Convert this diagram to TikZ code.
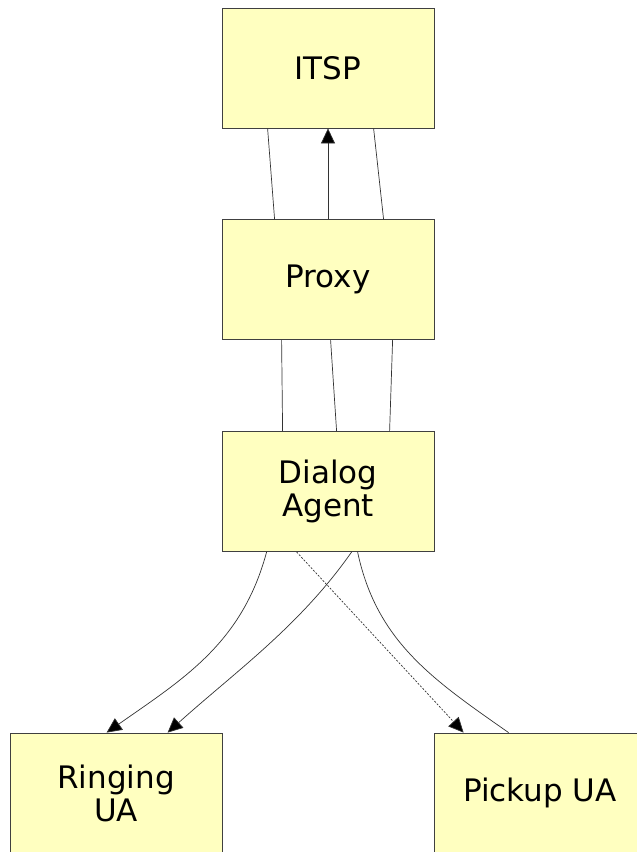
\documentclass[tikz,border=0pt]{standalone}
\usepackage{fontspec}
\setmainfont{DejaVu Sans}
\usepackage{xcolor}
\usetikzlibrary{positioning,arrows.meta}
\definecolor{boxfill}{HTML}{FFFFC0}

\begin{document}
\begin{tikzpicture}[x = 1pt, y = 1pt,
  box/.style = {draw = black!75, fill = boxfill, line width = 0.8pt,
    minimum width = 212pt, minimum height = 120pt, inner sep = 0pt,
    align = center, font = \fontsize{31}{33}\selectfont},
  link/.style = {draw = black!80, line width = 0.7pt},
  tip/.style = {-{Triangle[length = 15pt, width = 14pt, fill = black]}}
]
\clip (0,0) rectangle (637,-852);
\node[box] (itsp) at (328,-68) {ITSP};
\node[box, below = 91pt of itsp] (proxy) {Proxy};
\node[box, below = 91pt of proxy] (dialog) {Dialog\\Agent};
\node[box] (ringing) at (116,-793) {Ringing\\UA};
\node[box] (pickup) at (540,-793) {Pickup UA};

% itsp <-> proxy
\draw[link] ([xshift = 46pt]itsp.south west) -- ([xshift = 53pt]proxy.north west);
\draw[link, tip] (proxy.north) -- (itsp.south);
\draw[link] ([xshift = 152pt]itsp.south west) -- ([xshift = 162pt]proxy.north west);

% proxy <-> dialog agent
\draw[link] ([xshift = 60pt]proxy.south west) -- ([xshift = 61pt]dialog.north west);
\draw[link] ([xshift = 109pt]proxy.south west) -- ([xshift = 115pt]dialog.north west);
\draw[link] ([xshift = 171pt]proxy.south west) -- ([xshift = 168pt]dialog.north west);

% dialog agent -> user agents
\draw[link, tip] ([xshift = 45pt]dialog.south west)
    to[out = -105, in = 35] ([xshift = 97pt]ringing.north west);
\draw[link, tip] ([xshift = 130pt]dialog.south west)
    to[out = -125, in = 42, looseness = 0.9] ([xshift = 158pt]ringing.north west);
\draw[link, tip, dash pattern = on 2pt off 1.5pt] ([xshift = 75pt]dialog.south west)
    -- ([xshift = 30pt]pickup.north west);
\draw[link] ([xshift = 136pt]dialog.south west)
    to[out = -78, in = 145] ([xshift = 75pt]pickup.north west);
\end{tikzpicture}
\end{document}
